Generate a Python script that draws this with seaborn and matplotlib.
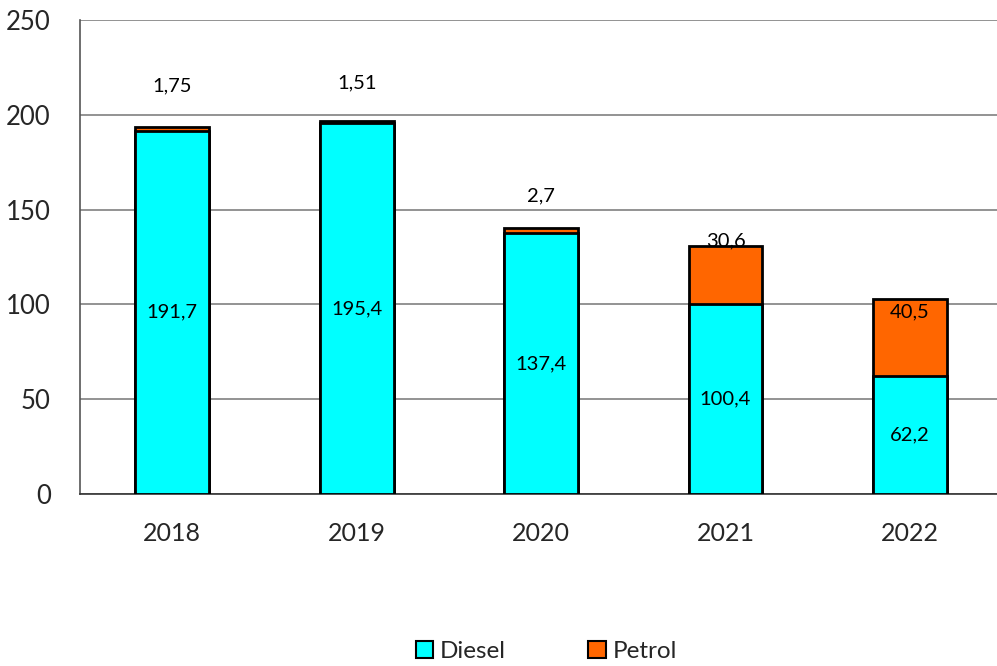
import matplotlib
matplotlib.use("Agg")
import matplotlib.pyplot as plt
import seaborn as sns
import pandas as pd
from matplotlib.patches import Patch

years = ["2018", "2019", "2020", "2021", "2022"]
diesel = [191.7, 195.4, 137.4, 100.4, 62.2]
petrol = [1.75, 1.51, 2.7, 30.6, 40.5]
diesel_labels = ["191,7", "195,4", "137,4", "100,4", "62,2"]
petrol_labels = ["1,75", "1,51", "2,7", "30,6", "40,5"]
# label placement (data units) for the petrol labels, as in the original
petrol_label_y = [215, 217, 157, 133.5, 96]

sns.set_theme(style="white")
plt.rcParams["font.family"] = ["Lato", "DejaVu Sans"]

df = pd.DataFrame({"year": years, "diesel": diesel, "petrol": petrol})
df["total"] = df["diesel"] + df["petrol"]

fig = plt.figure(figsize=(9.97, 6.66), dpi=100)
ax = fig.add_axes([0.0802, 0.2583, 0.925, 0.7117])

sns.barplot(data=df, x="year", y="total", color="#FF6600", width=0.4,
            edgecolor="black", linewidth=2, saturation=1, ax=ax, zorder=3)
sns.barplot(data=df, x="year", y="diesel", color="#00FFFF", width=0.4,
            edgecolor="black", linewidth=2, saturation=1, ax=ax, zorder=4)

for i in range(len(years)):
    ax.text(i, diesel[i] / 2, diesel_labels[i], ha="center", va="center",
            fontsize=14.5, color="black", zorder=6)
    ax.text(i, petrol_label_y[i], petrol_labels[i], ha="center", va="center",
            fontsize=14.5, color="black", zorder=6)

ax.set_ylim(0, 250)
ax.set_xlim(-0.5, 4.5)
ax.set_yticks([0, 50, 100, 150, 200, 250])
ax.set_xticks([-0.5, 0.5, 1.5, 2.5, 3.5, 4.5], minor=False)
ax.set_xticks(range(5), minor=True)
ax.set_xticklabels([""] * 6)
ax.set_xticklabels(years, minor=True)
ax.tick_params(axis="x", which="major", direction="out", length=8, width=1, color="#555555")
ax.tick_params(axis="x", which="minor", length=0, labelsize=18, pad=20)
ax.tick_params(axis="y", direction="out", length=8, width=1, color="#555555", labelsize=18.5, pad=13)
ax.set_xlabel("")
ax.set_ylabel("")

ax.yaxis.grid(True, color="#808080", linewidth=1.2, zorder=0)
ax.set_axisbelow(True)
for s in ["top", "right"]:
    ax.spines[s].set_visible(False)
ax.spines["left"].set_color("#555555")
ax.spines["left"].set_linewidth(1.2)
ax.spines["bottom"].set_color("#333333")
ax.spines["bottom"].set_linewidth(1.2)

handles = [Patch(facecolor="#00FFFF", edgecolor="black", linewidth=1.5, label="Diesel"),
           Patch(facecolor="#FF6600", edgecolor="black", linewidth=1.5, label="Petrol")]
fig.legend(handles=handles, loc="center", bbox_to_anchor=(0.548, 0.022), ncol=2,
           frameon=False, fontsize=17.5, handlelength=0.7, handleheight=0.7,
           handletextpad=0.3, columnspacing=3.4)

fig.savefig("out.png", dpi=100)
